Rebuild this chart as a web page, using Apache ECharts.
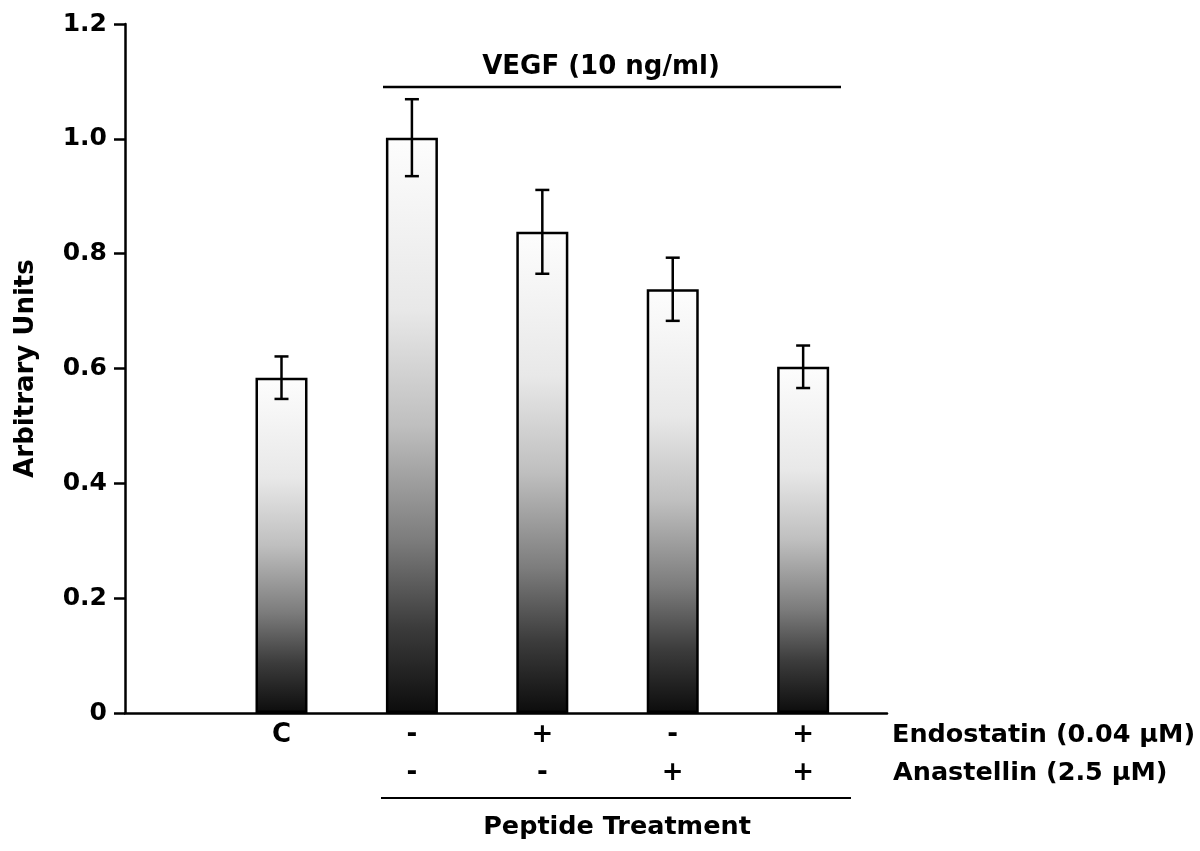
<!DOCTYPE html>
<html>
<head>
<meta charset="utf-8">
<script src="https://cdn.jsdelivr.net/npm/echarts@6/dist/echarts.min.js"></script>
<style>
html,body{margin:0;padding:0;background:#fff;}
#chart{width:1200px;height:851px;}
</style>
</head>
<body>
<div id="chart"></div>
<script>
// ---- data ----
const positions = [1, 2, 3, 4, 5];
const endostatinRow = ['C', '-', '+', '-', '+'];
const anastellinRow = ['', '-', '-', '+', '+'];
const means = [0.584, 1.002, 0.838, 0.738, 0.603];
const errors = [0.037, 0.067, 0.073, 0.055, 0.037];
const yTicks = [0, 0.2, 0.4, 0.6, 0.8, 1.0, 1.2];
const yAxisTitle = 'Arbitrary Units';
const vegfLabel = 'VEGF (10 ng/ml)';
const endostatinLabel = 'Endostatin (0.04 µM)';
const anastellinLabel = 'Anastellin (2.5 µM)';
const groupLabel = 'Peptide Treatment';

const FONT = 'DejaVu Sans';

const barData = positions.map((p, i) => [p, means[i]]);
const errData = positions.map((p, i) => [p, means[i] - errors[i], means[i] + errors[i]]);

const chart = echarts.init(document.getElementById('chart'), null, {renderer: 'canvas'});

const option = {
  backgroundColor: '#fff',
  animation: false,
  grid: {left: 125, right: 313, top: 24, bottom: 138, containLabel: false},
  xAxis: {
    type: 'value',
    min: -0.2,
    max: 5.643,
    splitLine: {show: false},
    axisTick: {show: false},
    axisLine: {show: true, onZero: false, lineStyle: {color: '#000', width: 2.5}},
    axisLabel: {
      show: true,
      customValues: positions,
      margin: 3,
      formatter: function (v) {
        const i = positions.indexOf(v);
        if (i < 0) return '';
        return '{a|' + endostatinRow[i] + '}\n{a|' + (anastellinRow[i] || ' ') + '}';
      },
      rich: {
        a: {fontFamily: FONT, fontWeight: 'bold', fontSize: 26, color: '#000', lineHeight: 38, align: 'center'}
      }
    }
  },
  yAxis: {
    type: 'value',
    min: 0,
    max: 1.2,
    interval: 0.2,
    splitLine: {show: false},
    axisLine: {show: true, onZero: false, lineStyle: {color: '#000', width: 2.5}},
    axisTick: {show: true, inside: false, length: 11, lineStyle: {color: '#000', width: 2.5}},
    axisLabel: {
      margin: 18,
      fontFamily: FONT, fontWeight: 'bold', fontSize: 25, color: '#000',
      formatter: v => (Math.abs(v) < 1e-9 ? '0' : v.toFixed(1))
    },
    name: yAxisTitle,
    nameLocation: 'middle',
    nameGap: 86,
    nameRotate: 90,
    nameTextStyle: {fontFamily: FONT, fontWeight: 'bold', fontSize: 26, color: '#000'}
  },
  series: [
    {
      type: 'bar',
      data: barData,
      barWidth: 52,
      itemStyle: {
        borderColor: '#000',
        borderWidth: 2.5,
        color: new echarts.graphic.LinearGradient(0, 0, 0, 1, [
          {offset: 0, color: '#fdfdfd'},
          {offset: 0.3, color: '#e8e8e8'},
          {offset: 0.5, color: '#bfbfbf'},
          {offset: 0.7, color: '#7c7c7c'},
          {offset: 0.85, color: '#3c3c3c'},
          {offset: 1, color: '#0c0c0c'}
        ])
      },
      z: 2
    },
    {
      type: 'custom',
      data: errData,
      z: 3,
      renderItem: function (params, api) {
        const x = api.value(0);
        const lo = api.coord([x, api.value(1)]);
        const hi = api.coord([x, api.value(2)]);
        const hw = 7;
        const style = {stroke: '#000', lineWidth: 2.5};
        return {
          type: 'group',
          children: [
            {type: 'line', shape: {x1: lo[0], y1: lo[1], x2: hi[0], y2: hi[1]}, style: style},
            {type: 'line', shape: {x1: lo[0] - hw, y1: lo[1], x2: lo[0] + hw, y2: lo[1]}, style: style},
            {type: 'line', shape: {x1: hi[0] - hw, y1: hi[1], x2: hi[0] + hw, y2: hi[1]}, style: style}
          ]
        };
      }
    }
  ],
  graphic: [
    {type: 'line', shape: {x1: 383, y1: 87, x2: 841, y2: 87}, style: {stroke: '#000', lineWidth: 2.5}},
    {type: 'text', x: 601, y: 67, style: {text: vegfLabel, fontFamily: FONT, fontWeight: 'bold', fontSize: 26, fill: '#000', align: 'center', verticalAlign: 'middle'}},
    {type: 'line', shape: {x1: 381, y1: 798, x2: 851, y2: 798}, style: {stroke: '#000', lineWidth: 1.8}},
    {type: 'text', x: 617, y: 827, style: {text: groupLabel, fontFamily: FONT, fontWeight: 'bold', fontSize: 25.5, fill: '#000', align: 'center', verticalAlign: 'middle'}},
    {type: 'text', x: 892, y: 735, style: {text: endostatinLabel, fontFamily: FONT, fontWeight: 'bold', fontSize: 25.5, fill: '#000', align: 'left', verticalAlign: 'middle'}},
    {type: 'text', x: 893, y: 773, style: {text: anastellinLabel, fontFamily: FONT, fontWeight: 'bold', fontSize: 25.5, fill: '#000', align: 'left', verticalAlign: 'middle'}}
  ]
};
chart.setOption(option);
</script>
</body>
</html>
